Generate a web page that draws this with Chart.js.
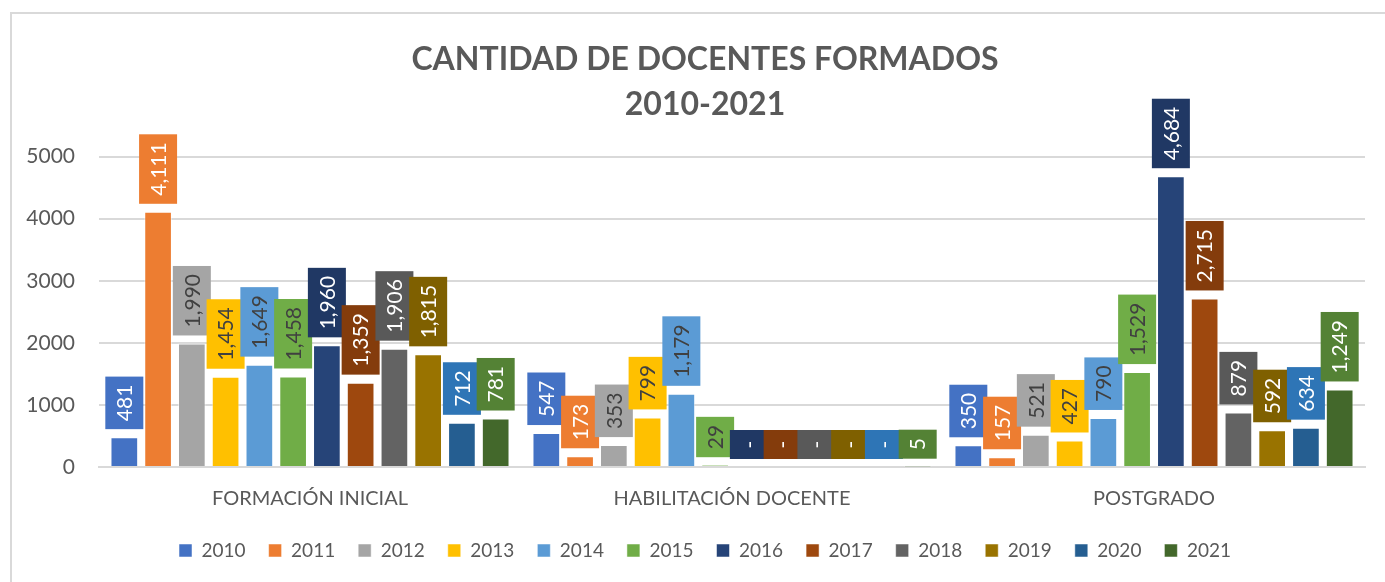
<!DOCTYPE html>
<html>
<head>
<meta charset="utf-8">
<script src="https://cdn.jsdelivr.net/npm/chart.js"></script>
<style>
  html, body { margin: 0; padding: 0; background: #fff; }
  #wrap { position: relative; width: 1385px; height: 582px; overflow: hidden; }
  #frame { position: absolute; left: 10px; top: 12px; width: 1390px; height: 600px; border: 2px solid #D9D9D9; box-sizing: border-box; }
  canvas { position: absolute; left: 0; top: 0; }
</style>
</head>
<body>
<div id="wrap">
  <div id="frame"></div>
  <canvas id="chartCanvas" width="1385" height="582"></canvas>
</div>
<script>
// categorías y años
const categories = ['FORMACIÓN INICIAL', 'HABILITACIÓN DOCENTE', 'POSTGRADO'];
const years = ['2010', '2011', '2012', '2013', '2014', '2015', '2016', '2017', '2018', '2019', '2020', '2021'];

// docentes formados por año, en cada categoría
const formacionInicial = [481, 4111, 1990, 1454, 1649, 1458, 1960, 1359, 1906, 1815, 712, 781];
const habilitacionDocente = [547, 173, 353, 799, 1179, 29, 0, 0, 0, 0, 0, 5];
const postgrado = [350, 157, 521, 427, 790, 1529, 4684, 2715, 879, 592, 634, 1249];

const yTicks = [0, 1000, 2000, 3000, 4000, 5000];

// colores tipo Office
const barColors = ['#4472C4', '#ED7D31', '#A5A5A5', '#FFC000', '#5B9BD5', '#70AD47',
                   '#264478', '#9E480E', '#636363', '#997300', '#255E91', '#43682B'];
const boxColors = ['#4472C4', '#ED7D31', '#A5A5A5', '#FFC000', '#5B9BD5', '#70AD47',
                   '#203864', '#843C0C', '#595959', '#7F6000', '#2E75B6', '#548235'];
const textColors = ['#fff', '#fff', '#404040', '#404040', '#404040', '#404040',
                    '#fff', '#fff', '#fff', '#fff', '#fff', '#fff'];

const FONT = 'Lato, "Open Sans", sans-serif';

const datasets = years.map((y, i) => ({
  label: y,
  data: [formacionInicial[i], habilitacionDocente[i], postgrado[i]],
  backgroundColor: barColors[i],
  borderColor: 'rgba(255,255,255,0.5)',
  borderWidth: 1,
  barPercentage: 0.82,
  categoryPercentage: 0.96,
}));

// etiquetas giradas dentro de una caja del color de la serie
const boxLabels = {
  id: 'boxLabels',
  afterLayout(chart) {
    // título y leyenda centrados en el marco completo, no en el área del canvas
    chart.titleBlock.left += 19;
    chart.legend.left += 19;
  },
  afterDatasetsDraw(chart) {
    const ctx = chart.ctx;
    ctx.save();
    ctx.font = '21px ' + FONT;
    chart.data.datasets.forEach((ds, i) => {
      const meta = chart.getDatasetMeta(i);
      meta.data.forEach((bar, j) => {
        const v = ds.data[j];
        const txt = v === 0 ? '-' : v.toLocaleString('en-US');
        const w = ctx.measureText(txt).width;
        const bh = Math.max(w + 16, 29);
        const bw = 38;
        const bottom = bar.y - 8;
        ctx.fillStyle = boxColors[i];
        ctx.fillRect(bar.x - bw / 2, bottom - bh, bw, bh);
        ctx.save();
        ctx.translate(bar.x, bottom - bh / 2);
        ctx.rotate(-Math.PI / 2);
        ctx.fillStyle = textColors[i];
        ctx.textAlign = 'center';
        ctx.textBaseline = 'middle';
        ctx.fillText(txt, 0, 1);
        ctx.restore();
      });
    });
    ctx.restore();
  }
};

const ctx = document.getElementById('chartCanvas').getContext('2d');
new Chart(ctx, {
  type: 'bar',
  data: { labels: categories, datasets: datasets },
  plugins: [boxLabels],
  options: {
    responsive: false,
    animation: false,
    layout: { padding: { left: 26, right: 20, top: 0, bottom: 12 } },
    scales: {
      y: {
        min: 0,
        max: 5000,
        afterBuildTicks: (axis) => { axis.ticks = yTicks.map(v => ({ value: v })); },
        afterFit: (axis) => { axis.width = 73; },
        grid: { color: '#D9D9D9', lineWidth: 2, drawTicks: false },
        border: { display: false },
        ticks: { color: '#595959', font: { family: FONT, size: 21 }, padding: 24,
                 callback: (v) => String(v) },
      },
      x: {
        afterFit: (axis) => { axis.height -= 5; },
        grid: { display: false },
        border: { color: '#D9D9D9', width: 2 },
        ticks: { color: '#595959', font: { family: FONT, size: 20 }, padding: 12 },
      },
    },
    plugins: {
      title: {
        display: true,
        text: ['CANTIDAD DE DOCENTES FORMADOS', '2010-2021'],
        color: '#595959',
        font: { family: FONT, size: 32, weight: 'bold', lineHeight: 1.4 },
        padding: { top: 37, bottom: 30 },
      },
      legend: {
        position: 'bottom',
        labels: {
          color: '#595959',
          font: { family: FONT, size: 19 },
          boxWidth: 13,
          boxHeight: 13,
          padding: 23,
        },
      },
      tooltip: { enabled: false },
    },
  },
});
</script>
</body>
</html>
